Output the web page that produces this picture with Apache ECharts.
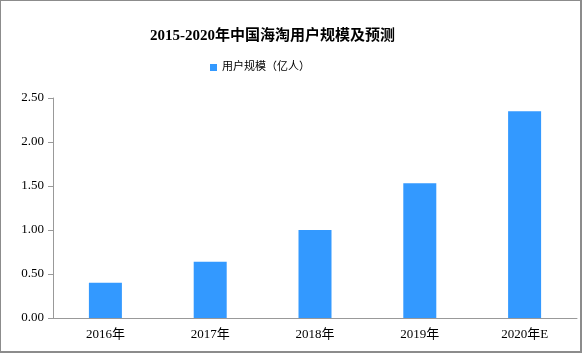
<!DOCTYPE html>
<html><head><meta charset="utf-8">
<script src="https://cdn.jsdelivr.net/npm/echarts@6/dist/echarts.min.js"></script>
<style>html,body{margin:0;padding:0;background:#fff}#c{width:582px;height:353px;box-sizing:border-box;border:1px solid #8c8c8c;border-right:2px solid #8c8c8c;border-bottom:2px solid #8c8c8c}</style>
</head><body><div id="c"></div>
<script>
var titleText = '2015-2020年中国海淘用户规模及预测';
var seriesName = '用户规模（亿人）';
var categories = ['2016年', '2017年', '2018年', '2019年', '2020年E'];
var values = [0.40, 0.64, 1.00, 1.53, 2.35];
var yTicks = {min: 0, max: 2.5, interval: 0.5};

var chart = echarts.init(document.getElementById('c'));
var font = 'Liberation Serif, "Noto Sans CJK SC", serif';
chart.setOption({
  animation: false,
  title: {text: titleText, left: 144, top: 23,
    textStyle: {fontFamily: font, fontWeight: 'bold', fontSize: 15, color: '#000'}},
  legend: {data: [seriesName], top: 56, left: 204, itemWidth: 7, itemHeight: 7, itemGap: 6,
    icon: 'rect',
    textStyle: {fontFamily: font, fontSize: 11, color: '#000'}},
  grid: {left: 52, right: 3, top: 97, bottom: 33, containLabel: false},
  xAxis: {type: 'category', data: categories,
    axisLine: {lineStyle: {color: '#999', width: 1}},
    axisTick: {show: false},
    axisLabel: {fontFamily: font, fontSize: 13, color: '#000', margin: 10, interval: 0}},
  yAxis: {type: 'value', min: yTicks.min, max: yTicks.max, interval: yTicks.interval,
    axisLine: {show: true, lineStyle: {color: '#999'}},
    axisTick: {show: true, length: 5, lineStyle: {color: '#999'}},
    splitLine: {show: false},
    axisLabel: {fontFamily: font, fontSize: 13, color: '#000', margin: 9,
      formatter: function (v) { return v.toFixed(2); }}},
  series: [{name: seriesName, type: 'bar', data: values, barWidth: 33,
    itemStyle: {color: '#3399ff'}}]
});
</script></body></html>
